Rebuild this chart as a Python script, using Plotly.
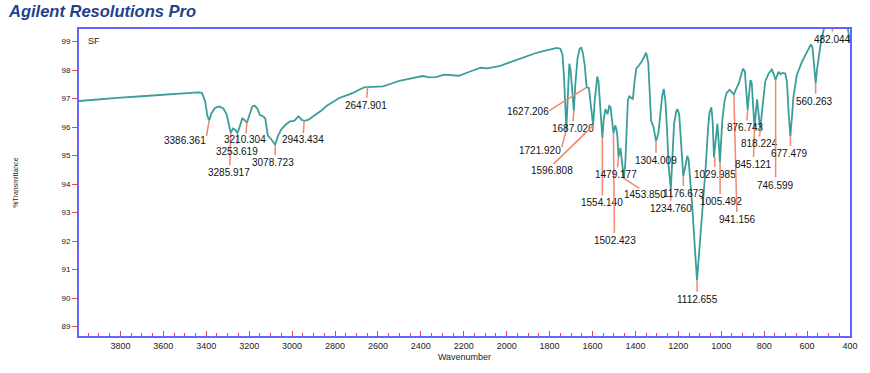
import plotly.graph_objects as go

# ---- spectrum trace (wavenumber, %T) ----
wavenumber = [4000, 3900, 3800, 3700, 3600, 3500, 3440, 3420, 3405, 3395, 3386, 3378, 3360, 3340,
              3320, 3305, 3292, 3286, 3275, 3264, 3254, 3242, 3232, 3222, 3210, 3200, 3185, 3175,
              3162, 3150, 3135, 3125, 3113, 3100, 3090, 3079, 3065, 3050, 3030, 3010, 2990, 2970,
              2955, 2943, 2925, 2900, 2880, 2860, 2840, 2810, 2780, 2750, 2715, 2690, 2665, 2648,
              2620, 2576, 2540, 2500, 2450, 2391, 2360, 2330, 2291, 2250, 2222, 2170, 2121, 2090,
              2067, 2030, 1982, 1940, 1905, 1870, 1844, 1800, 1766, 1750, 1740, 1733, 1728, 1722,
              1716, 1712, 1708, 1702, 1695, 1687, 1680, 1670, 1660, 1652, 1645, 1636, 1630, 1627,
              1617, 1604, 1597, 1590, 1583, 1578, 1572, 1565, 1558, 1554, 1548, 1540, 1530, 1522,
              1516, 1508, 1502, 1494, 1488, 1484, 1479, 1470, 1462, 1454, 1447, 1440, 1435, 1428,
              1420, 1412, 1404, 1396, 1385, 1373, 1360, 1350, 1340, 1333, 1327, 1316, 1304, 1293,
              1285, 1275, 1268, 1260, 1252, 1245, 1235, 1228, 1220, 1210, 1204, 1196, 1188, 1177,
              1168, 1158, 1152, 1145, 1135, 1125, 1117, 1113, 1105, 1095, 1085, 1072, 1062, 1055,
              1046, 1040, 1034, 1027, 1018, 1012, 1006, 1000, 995, 985, 975, 961, 950, 941, 930,
              918, 905, 898, 890, 884, 877, 870, 864, 858, 852, 845, 838, 833, 828, 818, 812, 805,
              795, 779, 764, 755, 747, 740, 733, 724, 716, 702, 694, 686, 678, 670, 664, 648, 625,
              602, 582, 575, 568, 560, 554, 548, 535, 520, 505, 490, 482, 470, 440, 415, 400]
transmittance = [96.91, 96.98, 97.03, 97.08, 97.13, 97.18, 97.22, 97.20, 96.90, 96.40, 96.23, 96.45,
                 96.67, 96.72, 96.65, 96.45, 96.00, 95.80, 95.95, 95.90, 95.78, 96.05, 96.30, 96.25,
                 96.15, 96.40, 96.72, 96.75, 96.65, 96.42, 96.38, 96.30, 95.70, 95.60, 95.50, 95.38,
                 95.70, 95.92, 96.08, 96.20, 96.22, 96.38, 96.25, 96.22, 96.25, 96.38, 96.48, 96.60,
                 96.74, 96.88, 97.02, 97.10, 97.20, 97.30, 97.39, 97.40, 97.41, 97.43, 97.52, 97.62,
                 97.70, 97.79, 97.74, 97.75, 97.84, 97.83, 97.80, 97.95, 98.08, 98.06, 98.10, 98.15,
                 98.28, 98.40, 98.50, 98.58, 98.64, 98.72, 98.78, 98.75, 98.55, 97.80, 97.00, 95.90,
                 96.90, 97.80, 98.22, 98.00, 97.20, 96.57, 97.50, 98.40, 98.75, 98.78, 98.60, 98.16,
                 97.60, 97.39, 97.38, 96.40, 96.06, 96.90, 97.60, 97.77, 97.60, 96.80, 96.00, 95.62,
                 96.25, 96.63, 96.45, 96.74, 96.70, 96.20, 95.78, 96.06, 95.90, 95.67, 94.95, 95.27,
                 94.60, 94.20, 94.76, 96.00, 96.95, 97.08, 97.02, 96.97, 97.60, 98.05, 98.15, 98.27,
                 98.45, 98.61, 98.25, 97.20, 96.23, 96.01, 95.50, 95.78, 96.50, 97.10, 97.34, 96.90,
                 95.80, 94.60, 93.82, 94.80, 96.10, 96.55, 96.63, 96.45, 95.60, 94.27, 94.60, 94.99,
                 94.85, 94.20, 93.20, 92.00, 91.00, 90.63, 91.40, 92.30, 93.50, 94.65, 95.90, 96.50,
                 96.69, 96.20, 94.93, 95.50, 96.12, 95.50, 94.76, 95.60, 96.23, 96.90, 97.20, 97.31,
                 97.22, 97.14, 97.35, 97.54, 97.90, 98.05, 97.95, 97.30, 96.60, 97.20, 97.65, 97.55,
                 96.80, 95.95, 96.60, 96.97, 96.60, 95.90, 96.40, 97.00, 97.60, 97.88, 98.02, 97.85,
                 97.65, 97.80, 97.94, 97.85, 97.90, 97.88, 97.60, 96.50, 95.67, 96.40, 97.03, 97.82,
                 98.27, 98.61, 98.90, 98.80, 98.20, 97.54, 98.00, 98.39, 99.01, 99.50, 99.90, 99.90,
                 99.75, 99.95, 99.95, 99.70, 98.95]

# ---- labelled peaks ----
peak_labels = ["3386.361", "3285.917", "3253.619", "3210.304", "3078.723", "2943.434", "2647.901",
               "1721.920", "1687.020", "1627.206", "1596.808", "1554.140", "1502.423", "1479.177",
               "1453.850", "1304.009", "1234.760", "1176.673", "1112.655", "1029.985", "1005.492",
               "941.156", "876.743", "845.121", "818.224", "746.599", "677.479", "560.263", "482.044"]
peak_wn = [3386.361, 3285.917, 3253.619, 3210.304, 3078.723, 2943.434, 2647.901,
           1721.920, 1687.020, 1627.206, 1596.808, 1554.140, 1502.423, 1479.177,
           1453.850, 1304.009, 1234.760, 1176.673, 1112.655, 1029.985, 1005.492,
           941.156, 876.743, 845.121, 818.224, 746.599, 677.479, 560.263, 482.044]
peak_t = [96.23, 95.80, 95.78, 96.18, 95.38, 96.22, 97.40,
          95.90, 96.57, 97.39, 96.06, 95.62, 95.78, 94.95,
          94.20, 95.50, 93.82, 94.27, 90.63, 94.93, 94.76,
          97.14, 96.60, 95.95, 95.90, 97.65, 95.67, 97.54, 99.44]

# ---- label layout (pixel offsets from the peak point: leader end, text centre) ----
leader_dx = [-3, -1, -1, -1, 0, -1, -1, -5, -1, -39, -41, 0, 1, -1, 17, 0, 0, 0, 0, 0, 0, 3, -1, -1, -1, 0, 0, 0, 0]
leader_dy = [17, 34, 12, 13, 12, 14, 12, 19, 12, 24, 40, 59, 101, 12, 11, 13, 13, 11, 13, 11, 33, 119, 12, 30, 8, 99, 11, 12, 4]
text_dx = [-24, -2, -1, -2, -2, -1, -2, -26, -1, -59, -41, 0, 2, -2, 21, 0, 0, 0, 0, 0, 1, 4, -2, -1, -1, 0, -1, -1, 0]
text_dy = [20, 40, 18, 18, 18, 19, 18, 21, 18, 24, 45, 65, 107, 18, 16, 19, 19, 17, 19, 17, 39, 125, 18, 36, 14, 105, 17, 18, 10]

x_ticks = [3800, 3600, 3400, 3200, 3000, 2800, 2600, 2400, 2200, 2000, 1800, 1600, 1400, 1200, 1000, 800, 600, 400]
y_ticks = [89, 90, 91, 92, 93, 94, 95, 96, 97, 98, 99]

TEAL = "#3a9e9a"
SALMON = "#f2866e"
BLUE = "#6464ff"
RED = "#f04040"
FONT = "Liberation Sans, Arial"

fig = go.Figure()
fig.add_trace(go.Scatter(x=wavenumber, y=transmittance, mode="lines",
                         line=dict(color=TEAL, width=1.8), hoverinfo="skip", showlegend=False))

annotations = []
for lab, wn, t, ldx, ldy, tdx, tdy in zip(peak_labels, peak_wn, peak_t, leader_dx, leader_dy, text_dx, text_dy):
    annotations.append(dict(x=wn, y=t, xref="x", yref="y", text="", showarrow=True,
                            ax=ldx, ay=ldy, arrowhead=0, arrowwidth=1.5, arrowcolor=SALMON,
                            standoff=0, startstandoff=0))
    annotations.append(dict(x=wn, y=t, xref="x", yref="y", text=lab, showarrow=False,
                            xshift=tdx, yshift=-tdy, xanchor="center", yanchor="middle",
                            font=dict(family=FONT, size=10, color="#111")))

annotations.append(dict(x=0.009, y=0.985, xref="paper", yref="paper", text="SF", showarrow=False,
                        xanchor="left", yanchor="top",
                        font=dict(family=FONT, size=9, color="#222")))
annotations.append(dict(x=0, y=1, xref="paper", yref="paper", xshift=-73, yshift=29,
                        text="<b><i>Agilent Resolutions Pro</i></b>",
                        showarrow=False, xanchor="left", yanchor="top",
                        font=dict(family=FONT, size=16.5, color="#1f3f8f")))

fig.update_layout(
    annotations=annotations,
    width=870, height=373,
    margin=dict(l=79, r=12, t=29, b=26),
    paper_bgcolor="white", plot_bgcolor="white",
    xaxis=dict(range=[3993, 400], tickvals=x_ticks, ticktext=[str(v) for v in x_ticks],
               showgrid=False, zeroline=False, showline=True, linecolor=BLUE, linewidth=2, mirror=True,
               ticks="inside", ticklen=5, tickcolor=RED, tickwidth=1,
               minor=dict(dtick=50, tick0=400, ticks="inside", ticklen=3, tickcolor=RED, tickwidth=1, showgrid=False),
               tickfont=dict(family=FONT, size=9, color="#222"),
               title=dict(text="Wavenumber", standoff=4,
                          font=dict(family=FONT, size=9, color="#222"))),
    yaxis=dict(range=[88.67, 99.44], tickvals=y_ticks,
               showgrid=False, zeroline=False, showline=True, linecolor=BLUE, linewidth=2, mirror=True,
               ticks="outside", ticklen=5, tickcolor=RED, tickwidth=1,
               tickfont=dict(family=FONT, size=8, color="#222"),
               title=dict(text="%Transmittance", standoff=42,
                          font=dict(family=FONT, size=7, color="#222"))),
)

fig.write_html("out.html", config={"displayModeBar": False},
               post_script="document.body.style.margin='0';document.body.style.overflow='hidden';")
